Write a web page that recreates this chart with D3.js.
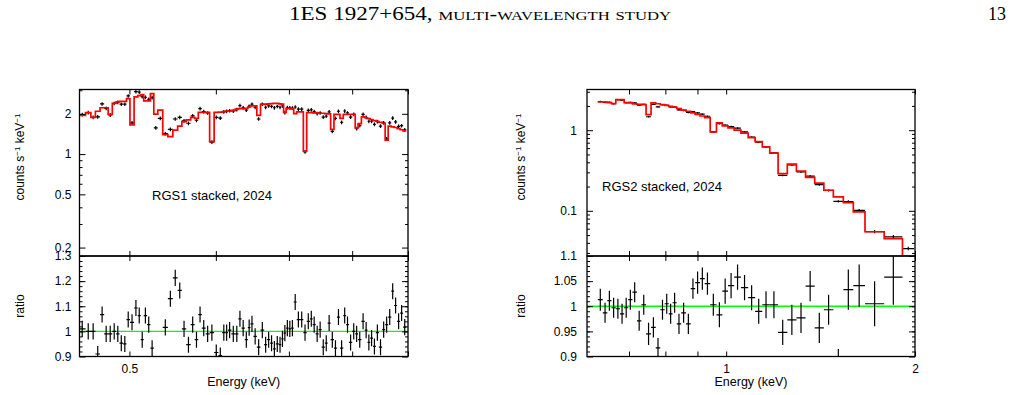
<!DOCTYPE html>
<html>
<head>
<meta charset="utf-8">
<script src="https://cdn.jsdelivr.net/npm/d3@7"></script>
<style>
  body { margin: 0; background: #fff; }
  text { font-family: "Liberation Sans", Arial, sans-serif; }
</style>
</head>
<body>
<svg id="chart" width="1013" height="395"></svg>
<script>
// ---- RGS1 (left) : bin centres in keV, counts s-1 keV-1, model, data/model ratio
var rgs1Energy = [
  0.4526, 0.4590, 0.4629, 0.4678, 0.4721, 0.4760, 0.4801, 0.4844, 0.4879, 0.4913,
  0.4955, 0.4983, 0.5028, 0.5071, 0.5106, 0.5135, 0.5171, 0.5208, 0.5245, 0.5283,
  0.5334, 0.5394, 0.5451, 0.5508, 0.5563, 0.5607, 0.5666, 0.5714, 0.5762, 0.5802,
  0.5848, 0.5897, 0.5947, 0.6010, 0.6055, 0.6107, 0.6138, 0.6171, 0.6229, 0.6272,
  0.6312, 0.6356, 0.6401, 0.6437, 0.6473, 0.6519, 0.6565, 0.6621, 0.6667, 0.6705,
  0.6752, 0.6785, 0.6833, 0.6871, 0.6906, 0.6939, 0.6979, 0.7012, 0.7052, 0.7091,
  0.7142, 0.7192, 0.7242, 0.7294, 0.7340, 0.7381, 0.7433, 0.7474, 0.7528, 0.7576,
  0.7617, 0.7672, 0.7725, 0.7769, 0.7824, 0.7878, 0.7918, 0.7973, 0.8029, 0.8074,
  0.8126, 0.8189, 0.8241, 0.8286, 0.8333, 0.8386, 0.8434, 0.8493, 0.8552, 0.8601,
  0.8661, 0.8715, 0.8765, 0.8826, 0.8877, 0.8938
];
var rgs1Counts = [
  1.97, 2.04, 1.88, 1.90, 2.37, 2.20, 1.96, 2.39, 2.44, 2.36,
  2.36, 2.72, 1.71, 2.93, 2.91, 2.69, 2.66, 2.57, 2.64, 1.57,
  1.85, 1.42, 1.53, 1.83, 1.88, 1.77, 1.70, 1.93, 1.79, 2.19,
  2.08, 2.03, 1.23, 1.88, 1.86, 2.07, 2.09, 2.11, 2.10, 2.15,
  2.30, 2.22, 2.13, 2.28, 2.36, 2.24, 1.83, 2.36, 2.24, 2.29,
  2.27, 2.22, 2.27, 2.24, 2.29, 2.04, 2.23, 2.22, 2.21, 2.25,
  2.17, 2.17, 1.04, 2.12, 2.14, 2.08, 2.01, 2.03, 1.89, 1.92,
  2.07, 1.48, 1.85, 2.09, 1.73, 2.10, 2.03, 1.89, 1.98, 1.55,
  1.63, 1.98, 1.88, 1.76, 1.76, 1.67, 1.75, 1.62, 1.71, 1.30,
  1.71, 1.86, 1.74, 1.61, 1.63, 1.52
];
var rgs1Model = [
  1.95, 2.04, 1.88, 2.09, 2.22, 2.22, 1.98, 2.39, 2.46, 2.48,
  2.48, 2.60, 1.65, 2.68, 2.74, 2.78, 2.50, 2.50, 2.83, 1.99,
  2.13, 1.40, 1.35, 1.51, 1.62, 1.75, 1.80, 1.88, 1.85, 2.05,
  2.05, 2.05, 1.24, 2.05, 2.06, 2.08, 2.10, 2.10, 2.12, 2.17,
  2.19, 2.19, 2.20, 2.25, 2.29, 2.29, 1.95, 2.35, 2.36, 2.37,
  2.38, 2.39, 2.39, 2.37, 2.36, 2.05, 2.20, 2.20, 2.18, 2.01,
  2.07, 2.07, 1.05, 2.04, 2.04, 2.03, 2.03, 2.02, 2.02, 2.01,
  2.00, 1.53, 1.98, 1.98, 1.85, 1.98, 1.98, 1.98, 1.98, 1.57,
  1.69, 1.90, 1.87, 1.84, 1.81, 1.78, 1.76, 1.73, 1.70, 1.27,
  1.62, 1.60, 1.58, 1.55, 1.52, 1.49
];
var rgs1Ratio = [
  1.010, 1.000, 1.000, 0.910, 1.067, 0.990, 0.990, 1.000, 0.990, 0.953,
  0.950, 1.047, 1.036, 1.093, 1.063, 0.967, 1.063, 1.027, 0.933, 0.790,
  0.870, 1.016, 1.130, 1.213, 1.163, 1.010, 0.947, 1.027, 0.967, 1.067,
  1.013, 0.990, 0.995, 0.916, 0.904, 0.995, 0.995, 1.005, 0.990, 0.990,
  1.050, 1.013, 0.967, 1.015, 1.030, 0.980, 0.937, 1.005, 0.947, 0.967,
  0.953, 0.930, 0.950, 0.947, 0.970, 0.993, 1.013, 1.010, 1.013, 1.117,
  1.047, 1.047, 0.995, 1.040, 1.050, 1.027, 0.990, 1.007, 0.937, 0.953,
  1.033, 0.967, 0.933, 1.057, 0.933, 1.063, 1.027, 0.956, 1.000, 0.990,
  0.967, 1.040, 1.005, 0.956, 0.973, 0.940, 0.995, 0.937, 1.007, 1.027,
  1.057, 1.160, 1.103, 1.040, 1.073, 1.017
];
var rgs1Err = 0.032;

// ---- RGS2 (right)
var rgs2Energy = [
  0.6300, 0.6417, 0.6512, 0.6615, 0.6723, 0.6822, 0.6930, 0.7033, 0.7145, 0.7269,
  0.7385, 0.7521, 0.7660, 0.7785, 0.7917, 0.8046, 0.8153, 0.8273, 0.8408, 0.8551,
  0.8709, 0.8850, 0.9001, 0.9168, 0.9317, 0.9545, 0.9757, 0.9963, 1.0174, 1.0423,
  1.0694, 1.0988, 1.1257, 1.1580, 1.1893, 1.2311, 1.2724, 1.3165, 1.3607, 1.4079,
  1.4551, 1.5094, 1.5658, 1.6243, 1.7061, 1.8699, 1.9511
];
var rgs2Counts = [
  2.27, 2.21, 2.22, 2.13, 2.39, 2.36, 2.19, 2.21, 2.18, 2.04,
  2.09, 1.47, 2.09, 1.95, 2.07, 2.04, 1.95, 1.94, 1.79, 1.76,
  1.66, 1.70, 1.64, 1.58, 1.49, 0.953, 1.21, 1.16, 1.11, 1.06,
  0.954, 0.824, 0.713, 0.622, 0.522, 0.275, 0.370, 0.303, 0.270, 0.211,
  0.179, 0.131, 0.130, 0.101, 0.0553, 0.0476, 0.034
];
var rgs2Model = [
  2.24, 2.24, 2.20, 2.14, 2.40, 2.40, 2.20, 2.18, 2.12, 2.10,
  2.08, 1.56, 2.18, 2.13, 2.08, 2.03, 1.98, 1.93, 1.86, 1.78,
  1.72, 1.64, 1.57, 1.50, 1.43, 0.95, 1.23, 1.13, 1.07, 1.00,
  0.92, 0.81, 0.72, 0.62, 0.52, 0.29, 0.38, 0.31, 0.26, 0.22,
  0.18, 0.149, 0.126, 0.097, 0.055, 0.045, 0.027
];
var rgs2Ratio = [
  1.013, 0.987, 1.011, 0.997, 0.995, 0.985, 0.997, 1.013, 1.028, 0.971,
  1.003, 0.945, 0.958, 0.917, 0.993, 1.005, 0.985, 1.007, 0.965, 0.987,
  0.965, 1.035, 1.047, 1.055, 1.045, 1.003, 0.983, 1.030, 1.041, 1.058,
  1.037, 1.017, 0.990, 1.003, 1.003, 0.948, 0.973, 0.977, 1.040, 0.957,
  0.993, 0.880, 1.033, 1.041, 1.005, 1.058, 1.250
];
var rgs2Err = [
  0.022, 0.020, 0.020, 0.020, 0.020, 0.020, 0.020, 0.020, 0.020, 0.020,
  0.020, 0.022, 0.020, 0.020, 0.020, 0.020, 0.020, 0.020, 0.020, 0.020,
  0.020, 0.020, 0.022, 0.022, 0.022, 0.022, 0.025, 0.025, 0.025, 0.025,
  0.025, 0.025, 0.025, 0.027, 0.027, 0.025, 0.030, 0.030, 0.030, 0.030,
  0.030, 0.035, 0.040, 0.042, 0.045, 0.055, 0.050
];

// ---- axis ranges and ticks
var rgs1XRange = [0.45, 0.9];
var rgs1XLabels = [0.5];
var rgs1XMinor = [0.6, 0.7, 0.8, 0.9];
var rgs1YRange = [0.173, 3.04];
var rgs1YLabels = [0.2, 0.5, 1, 2];
var rgs1YMinor = [0.3, 0.4, 0.6, 0.7, 0.8, 0.9, 3];
var rgs1RatioRange = [0.9, 1.3];
var rgs1RatioLabels = [0.9, 1, 1.1, 1.2, 1.3];
var rgs1RatioMinor = d3.range(0.92, 1.29, 0.02);

var rgs2XRange = [0.6, 2];
var rgs2XLabels = [1, 2];
var rgs2XMinor = [0.7, 0.8, 0.9];
var rgs2YRange = [0.0275, 3.2];
var rgs2YLabels = [0.1, 1];
var rgs2YMinor = [0.03, 0.04, 0.05, 0.06, 0.07, 0.08, 0.09, 0.2, 0.3, 0.4, 0.5, 0.6, 0.7, 0.8, 0.9, 2, 3];
var rgs2RatioRange = [0.9, 1.1];
var rgs2RatioLabels = [0.9, 0.95, 1, 1.05, 1.1];
var rgs2RatioMinor = d3.range(0.91, 1.095, 0.01);

var svg = d3.select("#chart");

// page header
var header = svg.append("text")
  .attr("x", 480)
  .attr("y", 20)
  .attr("text-anchor", "middle")
  .attr("textLength", 382)
  .attr("lengthAdjust", "spacingAndGlyphs")
  .style("font-family", "'Liberation Serif', 'DejaVu Serif', serif")
  .style("font-size", "18px");
header.append("tspan").text("1ES 1927+654, ");
header.append("tspan").style("font-variant", "small-caps").text("multi-wavelength study");

svg.append("text")
  .attr("x", 1006)
  .attr("y", 20)
  .attr("text-anchor", "end")
  .style("font-family", "'Liberation Serif', 'DejaVu Serif', serif")
  .style("font-size", "18px")
  .text("13");

var topY = 89.5, midY = 256, botY = 356.5;

function binEdges(e) {
  var lo = [], hi = [];
  for (var i = 0; i < e.length; i++) {
    var prev = i > 0 ? e[i - 1] : e[i] * e[i] / e[i + 1];
    var next = i < e.length - 1 ? e[i + 1] : e[i] * e[i] / e[i - 1];
    lo.push(Math.sqrt(prev * e[i]));
    hi.push(Math.sqrt(e[i] * next));
  }
  return { lo: lo, hi: hi };
}

function styleAxis(g) {
  g.select(".domain").remove();
  g.selectAll("line").attr("stroke", "#000").attr("stroke-width", 1);
  g.selectAll("text")
    .attr("fill", "#000")
    .style("font-family", "'Liberation Sans', Arial, sans-serif")
    .style("font-size", "12px");
}

function fmt(d) { return String(d); }

function drawPanel(p) {
  var x = d3.scaleLog().domain(p.xRange).range([p.left, p.right]);
  var yTop = d3.scaleLog().domain(p.yRange).range([midY, topY]);
  var yRat = d3.scaleLinear().domain(p.ratioRange).range([botY, midY]);
  var edges = binEdges(p.energy);

  var bins = p.energy.map(function (e, i) {
    return {
      lo: edges.lo[i], hi: edges.hi[i],
      c: p.counts[i], m: p.model[i], r: p.ratio[i],
      err: Array.isArray(p.err) ? p.err[i] : p.err
    };
  });

  svg.append("clipPath").attr("id", p.id + "-top")
    .append("rect").attr("x", p.left).attr("y", topY)
    .attr("width", p.right - p.left).attr("height", midY - topY);
  svg.append("clipPath").attr("id", p.id + "-bot")
    .append("rect").attr("x", p.left).attr("y", midY)
    .attr("width", p.right - p.left).attr("height", botY - midY);

  // ---- upper panel: data crosses + model
  var up = svg.append("g").attr("clip-path", "url(#" + p.id + "-top)");
  var crosses = up.selectAll("g.pt").data(bins).enter().append("g");
  crosses.append("line")
    .attr("x1", d => x(d.lo)).attr("x2", d => x(d.hi))
    .attr("y1", d => yTop(d.c)).attr("y2", d => yTop(d.c));
  crosses.append("line")
    .attr("x1", d => x(Math.sqrt(d.lo * d.hi))).attr("x2", d => x(Math.sqrt(d.lo * d.hi)))
    .attr("y1", d => yTop(d.c * (1 - d.err))).attr("y2", d => yTop(d.c * (1 + d.err)));
  crosses.selectAll("line").attr("stroke", "#000").attr("stroke-width", 1.2);

  var stepPts = [];
  bins.forEach(function (d) {
    stepPts.push([d.lo, d.m]);
    stepPts.push([d.hi, d.m]);
  });
  up.append("path")
    .datum(stepPts)
    .attr("fill", "none")
    .attr("stroke", "#ff0000")
    .attr("stroke-width", 1.7)
    .attr("d", d3.line().x(d => x(d[0])).y(d => yTop(d[1])));

  // ---- lower panel: ratio
  var low = svg.append("g").attr("clip-path", "url(#" + p.id + "-bot)");
  low.append("line")
    .attr("x1", p.left).attr("x2", p.right)
    .attr("y1", yRat(1)).attr("y2", yRat(1))
    .attr("stroke", "#00ff00").attr("stroke-width", 1.4);
  var rc = low.selectAll("g.rp").data(bins).enter().append("g");
  rc.append("line")
    .attr("x1", d => x(d.lo)).attr("x2", d => x(d.hi))
    .attr("y1", d => yRat(d.r)).attr("y2", d => yRat(d.r));
  rc.append("line")
    .attr("x1", d => x(Math.sqrt(d.lo * d.hi))).attr("x2", d => x(Math.sqrt(d.lo * d.hi)))
    .attr("y1", d => yRat(d.r - d.err)).attr("y2", d => yRat(d.r + d.err));
  rc.selectAll("line").attr("stroke", "#000").attr("stroke-width", 1.2);

  // ---- ticks (all inward)
  var ax = svg.append("g");
  // y, upper panel
  ax.append("g").attr("transform", `translate(${p.left},0)`)
    .call(d3.axisLeft(yTop).tickValues(p.yLabels).tickSizeInner(-6).tickSizeOuter(0).tickPadding(p.pad).tickFormat(fmt))
    .call(styleAxis);
  ax.append("g").attr("transform", `translate(${p.left},0)`)
    .call(d3.axisLeft(yTop).tickValues(p.yMinor).tickSizeInner(-3).tickSizeOuter(0).tickFormat(""))
    .call(styleAxis);
  ax.append("g").attr("transform", `translate(${p.right},0)`)
    .call(d3.axisRight(yTop).tickValues(p.yLabels).tickSizeInner(-6).tickSizeOuter(0).tickFormat(""))
    .call(styleAxis);
  ax.append("g").attr("transform", `translate(${p.right},0)`)
    .call(d3.axisRight(yTop).tickValues(p.yMinor).tickSizeInner(-3).tickSizeOuter(0).tickFormat(""))
    .call(styleAxis);
  // y, ratio panel
  ax.append("g").attr("transform", `translate(${p.left},0)`)
    .call(d3.axisLeft(yRat).tickValues(p.ratioLabels).tickSizeInner(-6).tickSizeOuter(0).tickPadding(p.pad).tickFormat(fmt))
    .call(styleAxis);
  ax.append("g").attr("transform", `translate(${p.left},0)`)
    .call(d3.axisLeft(yRat).tickValues(p.ratioMinor).tickSizeInner(-3).tickSizeOuter(0).tickFormat(""))
    .call(styleAxis);
  ax.append("g").attr("transform", `translate(${p.right},0)`)
    .call(d3.axisRight(yRat).tickValues(p.ratioLabels).tickSizeInner(-6).tickSizeOuter(0).tickFormat(""))
    .call(styleAxis);
  ax.append("g").attr("transform", `translate(${p.right},0)`)
    .call(d3.axisRight(yRat).tickValues(p.ratioMinor).tickSizeInner(-3).tickSizeOuter(0).tickFormat(""))
    .call(styleAxis);
  // x ticks on every horizontal border
  var xAll = p.xLabels.concat(p.xMinor);
  ax.append("g").attr("transform", `translate(0,${topY})`)
    .call(d3.axisTop(x).tickValues(xAll).tickSizeInner(-5).tickSizeOuter(0).tickFormat(""))
    .call(styleAxis);
  ax.append("g").attr("transform", `translate(0,${midY})`)
    .call(d3.axisBottom(x).tickValues(xAll).tickSizeInner(-5).tickSizeOuter(0).tickFormat(""))
    .call(styleAxis);
  ax.append("g").attr("transform", `translate(0,${midY})`)
    .call(d3.axisTop(x).tickValues(xAll).tickSizeInner(-5).tickSizeOuter(0).tickFormat(""))
    .call(styleAxis);
  ax.append("g").attr("transform", `translate(0,${botY})`)
    .call(d3.axisBottom(x).tickValues(p.xLabels).tickSizeInner(-5).tickSizeOuter(0).tickPadding(8).tickFormat(fmt))
    .call(styleAxis);
  ax.append("g").attr("transform", `translate(0,${botY})`)
    .call(d3.axisBottom(x).tickValues(p.xMinor).tickSizeInner(-5).tickSizeOuter(0).tickFormat(""))
    .call(styleAxis);

  // frames
  [[topY, midY], [midY, botY]].forEach(function (r) {
    svg.append("rect")
      .attr("x", p.left).attr("y", r[0])
      .attr("width", p.right - p.left).attr("height", r[1] - r[0])
      .attr("fill", "none").attr("stroke", "#000").attr("stroke-width", 1.3);
  });

  // labels
  svg.append("text")
    .attr("x", (p.left + p.right) / 2).attr("y", 386)
    .attr("text-anchor", "middle")
    .style("font-size", "12.5px")
    .text("Energy (keV)");

  var yl = svg.append("text")
    .attr("transform", `translate(${p.labelX},157) rotate(-90)`)
    .attr("text-anchor", "middle")
    .style("font-size", "12px");
  yl.append("tspan").text("counts s");
  yl.append("tspan").attr("dy", -4).style("font-size", "8px").text("−1");
  yl.append("tspan").attr("dy", 4).text(" keV");
  yl.append("tspan").attr("dy", -4).style("font-size", "8px").text("−1");

  svg.append("text")
    .attr("transform", `translate(${p.labelX},306) rotate(-90)`)
    .attr("text-anchor", "middle")
    .style("font-size", "12px")
    .text("ratio");

  svg.append("text")
    .attr("x", p.textX).attr("y", p.textY)
    .style("font-size", "13px")
    .text(p.title);
}

drawPanel({
  id: "rgs1", left: 79.5, right: 408, pad: 8, labelX: 24,
  energy: rgs1Energy, counts: rgs1Counts, model: rgs1Model, ratio: rgs1Ratio, err: rgs1Err,
  xRange: rgs1XRange, xLabels: rgs1XLabels, xMinor: rgs1XMinor,
  yRange: rgs1YRange, yLabels: rgs1YLabels, yMinor: rgs1YMinor,
  ratioRange: rgs1RatioRange, ratioLabels: rgs1RatioLabels, ratioMinor: rgs1RatioMinor,
  title: "RGS1 stacked, 2024", textX: 152, textY: 199.5
});

drawPanel({
  id: "rgs2", left: 587, right: 915, pad: 10, labelX: 525,
  energy: rgs2Energy, counts: rgs2Counts, model: rgs2Model, ratio: rgs2Ratio, err: rgs2Err,
  xRange: rgs2XRange, xLabels: rgs2XLabels, xMinor: rgs2XMinor,
  yRange: rgs2YRange, yLabels: rgs2YLabels, yMinor: rgs2YMinor,
  ratioRange: rgs2RatioRange, ratioLabels: rgs2RatioLabels, ratioMinor: rgs2RatioMinor,
  title: "RGS2 stacked, 2024", textX: 602, textY: 191
});
</script>
</body>
</html>
